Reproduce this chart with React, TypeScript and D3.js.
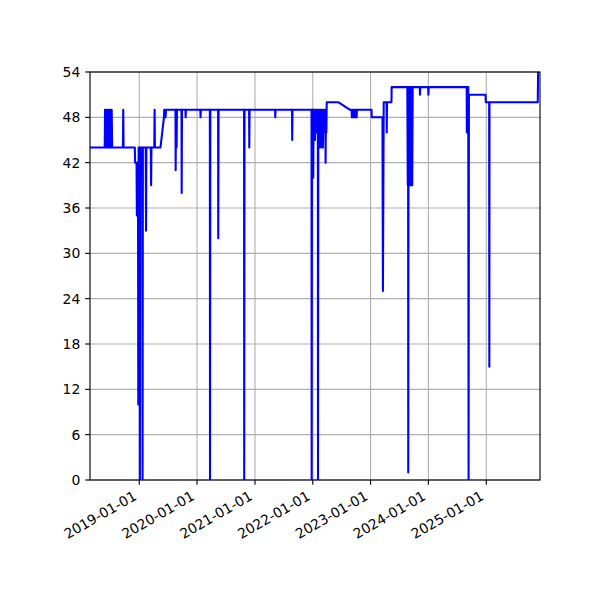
import React from "react";
import * as d3 from "d3";

const series: [string, number][] = [
  ["2018-02-24", 44], ["2018-05-28", 44], ["2018-05-30", 49], ["2018-06-02", 44],
  ["2018-06-05", 49], ["2018-06-08", 44], ["2018-06-11", 49], ["2018-06-14", 44],
  ["2018-06-17", 49], ["2018-06-20", 44], ["2018-06-23", 49], ["2018-06-26", 44],
  ["2018-06-29", 49], ["2018-07-02", 44], ["2018-07-05", 49], ["2018-07-08", 44],
  ["2018-07-11", 49], ["2018-07-14", 44], ["2018-09-20", 44], ["2018-09-22", 49],
  ["2018-09-24", 44], ["2018-12-04", 44], ["2018-12-06", 42], ["2018-12-15", 42],
  ["2018-12-17", 35], ["2018-12-19", 42], ["2018-12-24", 42], ["2018-12-26", 10],
  ["2018-12-28", 44], ["2019-01-03", 44], ["2019-01-05", 0], ["2019-01-07", 44],
  ["2019-01-20", 44], ["2019-01-22", 0], ["2019-01-24", 44], ["2019-02-11", 44],
  ["2019-02-13", 33], ["2019-02-15", 44], ["2019-03-15", 44], ["2019-03-17", 39],
  ["2019-03-19", 44], ["2019-04-06", 44], ["2019-04-08", 49], ["2019-04-10", 44],
  ["2019-05-15", 44], ["2019-06-06", 48], ["2019-06-08", 49], ["2019-06-10", 48],
  ["2019-06-13", 49], ["2019-06-16", 48], ["2019-06-19", 49], ["2019-08-18", 49],
  ["2019-08-19", 41], ["2019-08-21", 49], ["2019-08-24", 49], ["2019-08-25", 44],
  ["2019-08-27", 49], ["2019-09-25", 49], ["2019-09-26", 38], ["2019-09-28", 49],
  ["2019-10-20", 49], ["2019-10-21", 48], ["2019-10-23", 49], ["2020-01-22", 49],
  ["2020-01-23", 48], ["2020-01-25", 49], ["2020-03-22", 49], ["2020-03-23", 0],
  ["2020-03-25", 49], ["2020-05-13", 49], ["2020-05-14", 32], ["2020-05-16", 49],
  ["2020-10-24", 49], ["2020-10-25", 0], ["2020-10-27", 49], ["2020-11-25", 49],
  ["2020-11-26", 44], ["2020-11-28", 49], ["2021-05-08", 49], ["2021-05-09", 48],
  ["2021-05-11", 49], ["2021-08-23", 49], ["2021-08-24", 45], ["2021-08-26", 49],
  ["2021-12-24", 49], ["2021-12-25", 0], ["2021-12-27", 49], ["2022-01-03", 49],
  ["2022-01-04", 40], ["2022-01-06", 49], ["2022-01-13", 49], ["2022-01-15", 45],
  ["2022-01-18", 49], ["2022-01-21", 46], ["2022-01-24", 49], ["2022-01-27", 46],
  ["2022-01-30", 49], ["2022-02-02", 49], ["2022-02-03", 0], ["2022-02-05", 49],
  ["2022-02-08", 46], ["2022-02-11", 49], ["2022-02-15", 44], ["2022-02-18", 49],
  ["2022-02-21", 46], ["2022-02-24", 49], ["2022-02-26", 44], ["2022-02-28", 49],
  ["2022-03-03", 46], ["2022-03-06", 44], ["2022-03-09", 49], ["2022-03-12", 46],
  ["2022-03-15", 49], ["2022-03-18", 46], ["2022-03-21", 49], ["2022-03-23", 42],
  ["2022-03-25", 49], ["2022-03-28", 46], ["2022-03-30", 50], ["2022-06-11", 50],
  ["2022-08-24", 49], ["2022-09-03", 49], ["2022-09-05", 48], ["2022-09-08", 49],
  ["2022-09-11", 48], ["2022-09-14", 49], ["2022-09-17", 48], ["2022-09-20", 49],
  ["2022-09-23", 48], ["2022-09-26", 49], ["2022-09-29", 48], ["2022-10-02", 49],
  ["2022-10-05", 48], ["2022-10-07", 49], ["2023-01-07", 49], ["2023-01-08", 48],
  ["2023-03-17", 48], ["2023-03-20", 25], ["2023-03-25", 50], ["2023-04-12", 50],
  ["2023-04-13", 46], ["2023-04-15", 50], ["2023-05-13", 50], ["2023-05-14", 52],
  ["2023-08-21", 52], ["2023-08-24", 39], ["2023-08-26", 52], ["2023-08-27", 1],
  ["2023-08-29", 52], ["2023-08-31", 39], ["2023-09-02", 52], ["2023-09-04", 39],
  ["2023-09-06", 52], ["2023-09-08", 39], ["2023-09-10", 52], ["2023-09-12", 39],
  ["2023-09-14", 52], ["2023-09-16", 39], ["2023-09-18", 52], ["2023-09-21", 39],
  ["2023-09-24", 52], ["2023-11-08", 52], ["2023-11-09", 51], ["2023-11-11", 52],
  ["2023-12-31", 52], ["2024-01-01", 51], ["2024-01-03", 52], ["2024-08-30", 52],
  ["2024-08-31", 46], ["2024-09-01", 52], ["2024-09-09", 52], ["2024-09-11", 0],
  ["2024-09-13", 51], ["2024-12-27", 51], ["2024-12-29", 50], ["2025-01-19", 50],
  ["2025-01-20", 15], ["2025-01-21", 50], ["2025-11-22", 50], ["2025-11-24", 54],
  ["2025-12-06", 54],
];

const yTicks = [0, 6, 12, 18, 24, 30, 36, 42, 48, 54];
const xTickYears = ["2019-01-01", "2020-01-01", "2021-01-01", "2022-01-01", "2023-01-01", "2024-01-01", "2025-01-01"];

const W = 600, H = 600;
const L = 90, R = 540, T = 72, B = 480;
const FONT = "'DejaVu Sans', sans-serif";
const FS = 13.9;

export default function App() {
  const parse = d3.utcParse("%Y-%m-%d");
  const data = series.map(([d, v]) => ({ date: parse(d) as Date, value: v }));
  const x = d3.scaleUtc()
    .domain(d3.extent(data, (d) => d.date) as [Date, Date])
    .range([L, R]);
  const y = d3.scaleLinear()
    .domain(d3.extent(data, (d) => d.value) as [number, number])
    .range([B, T]);
  const line = d3.line<{ date: Date; value: number }>()
    .x((d) => x(d.date))
    .y((d) => y(d.value));
  const xt = xTickYears.map((s) => parse(s) as Date);
  const fmt = d3.utcFormat("%Y-%m-%d");
  const tickLen = 4.86;
  const pad = 4.86;

  return (
    <div style={{ position: "absolute", left: 0, top: 0 }}>
      <svg width={W} height={H} style={{ display: "block", background: "#fff" }}>
        <rect x={0} y={0} width={W} height={H} fill="#fff" />
        {/* grid */}
        {xt.map((d, i) => (
          <line key={"gx" + i} x1={x(d)} x2={x(d)} y1={T} y2={B} stroke="#b0b0b0" strokeWidth={1.11} />
        ))}
        {yTicks.map((v, i) => (
          <line key={"gy" + i} x1={L} x2={R} y1={y(v)} y2={y(v)} stroke="#b0b0b0" strokeWidth={1.11} />
        ))}
        <defs>
          <clipPath id="plotclip">
            <rect x={L} y={T} width={R - L} height={B - T} />
          </clipPath>
        </defs>
        <path d={line(data) || ""} fill="none" stroke="#0000ff" strokeWidth={2.08}
          strokeLinejoin="round" strokeLinecap="butt" clipPath="url(#plotclip)" />
        {/* spines */}
        <rect x={L} y={T} width={R - L} height={B - T} fill="none" stroke="#000" strokeWidth={1.11} />
        {/* y ticks */}
        {yTicks.map((v, i) => (
          <g key={"yt" + i}>
            <line x1={L - tickLen} x2={L} y1={y(v)} y2={y(v)} stroke="#000" strokeWidth={1.11} />
            <text x={L - tickLen - pad} y={y(v)} dy="0.36em" textAnchor="end"
              fontFamily={FONT} fontSize={FS} fill="#000">{v}</text>
          </g>
        ))}
        {/* x ticks */}
        {xt.map((d, i) => (
          <g key={"xt" + i}>
            <line x1={x(d)} x2={x(d)} y1={B} y2={B + tickLen} stroke="#000" strokeWidth={1.11} />
            <g transform={`translate(${x(d)},${B + tickLen + pad + FS * 0.866}) rotate(-30)`}>
              <text x={0} y={-FS * 0.24} textAnchor="end" fontFamily={FONT} fontSize={FS} fill="#000">
                {fmt(d)}
              </text>
            </g>
          </g>
        ))}
      </svg>
    </div>
  );
}
